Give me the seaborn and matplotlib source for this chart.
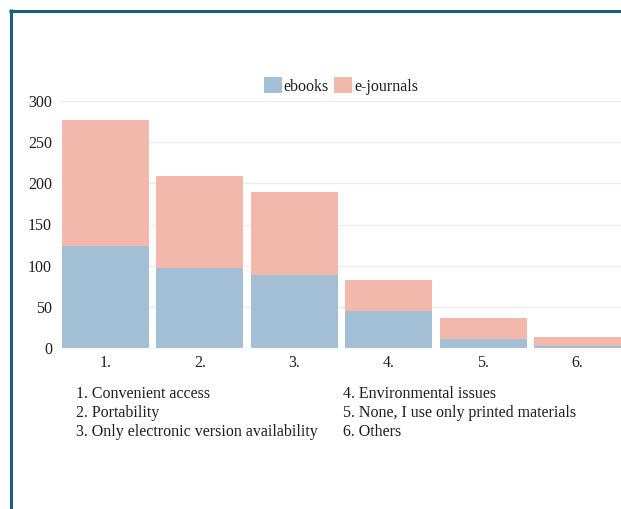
import matplotlib
matplotlib.use("Agg")
import matplotlib.pyplot as plt
from matplotlib.patches import Patch
from matplotlib.lines import Line2D
import seaborn as sns
import pandas as pd

# Reasons for using electronic resources (number of respondents)
codes = ["1.", "2.", "3.", "4.", "5.", "6."]
reasons = [
    "Convenient access",
    "Portability",
    "Only electronic version availability",
    "Environmental issues",
    "None, I use only printed materials",
    "Others",
]
ebooks = [124, 97, 89, 45, 11, 2]
ejournals = [153, 112, 100, 38, 26, 11]
y_ticks = [0, 50, 100, 150, 200, 250, 300]

EBOOK_COLOR = "#a3bfd6"
EJOURNAL_COLOR = "#f2b8ac"
FRAME_COLOR = "#1b5e87"
TEXT_COLOR = "#1e1e1e"
FS = 11.5

sns.set_theme(style="white")
plt.rcParams["font.family"] = ["Liberation Serif", "DejaVu Serif"]

df = pd.DataFrame({"code": codes, "ebooks": ebooks, "ejournals": ejournals})
df["total"] = df["ebooks"] + df["ejournals"]

W, H = 621, 509
fig = plt.figure(figsize=(W / 100, H / 100), dpi=100)
ax = fig.add_axes([61 / W, 1 - 348 / H, 1 - 61 / W, (348 - 101) / H])

# stacked bars: totals in the e-journal colour, ebooks drawn over them
sns.barplot(data=df, x="code", y="total", color=EJOURNAL_COLOR, width=0.92,
            saturation=1, linewidth=0, ax=ax, zorder=2)
sns.barplot(data=df, x="code", y="ebooks", color=EBOOK_COLOR, width=0.92,
            saturation=1, linewidth=0, ax=ax, zorder=3)

ax.set_xlim(-0.47, 5.46)
ax.set_ylim(0, 300)
ax.set_yticks(y_ticks)
ax.set_yticklabels([str(t) for t in y_ticks])
ax.set_xlabel("")
ax.set_ylabel("")
ax.grid(axis="y", color="#ececec", linewidth=0.9, zorder=0)
ax.grid(axis="x", visible=False)
ax.set_axisbelow(True)
for s in ax.spines.values():
    s.set_visible(False)
ax.tick_params(axis="both", length=0, labelsize=FS, colors=TEXT_COLOR)
ax.tick_params(axis="x", pad=5)
ax.tick_params(axis="y", pad=6.5)

# legend above the plot
handles = [Patch(facecolor=EBOOK_COLOR, edgecolor="none", label="ebooks"),
           Patch(facecolor=EJOURNAL_COLOR, edgecolor="none", label="e-journals")]
fig.legend(handles=handles, loc="center", bbox_to_anchor=(341 / W, 1 - 86 / H),
           ncol=2, frameon=False, fontsize=FS, handlelength=1.1,
           handleheight=1.1, handletextpad=0.12, columnspacing=0.35,
           labelcolor=TEXT_COLOR)

# key for the category codes
col_x = [76 / W, 343 / W]
row_y = [393.5, 413, 432.5]
for i, (c, r) in enumerate(zip(codes, reasons)):
    fig.text(col_x[i // 3], 1 - row_y[i % 3] / H, f"{c} {r}", fontsize=FS,
             va="center", ha="left", color=TEXT_COLOR)

# frame lines on the left and top
fig.add_artist(Line2D([10.5 / W, 10.5 / W], [0, 1 - 9 / H], color=FRAME_COLOR,
                      linewidth=2.2, transform=fig.transFigure, solid_capstyle="butt"))
fig.add_artist(Line2D([9 / W, 1], [1 - 10.5 / H, 1 - 10.5 / H], color=FRAME_COLOR,
                      linewidth=2.2, transform=fig.transFigure, solid_capstyle="butt"))

fig.savefig("out.png", dpi=100, facecolor="white")
